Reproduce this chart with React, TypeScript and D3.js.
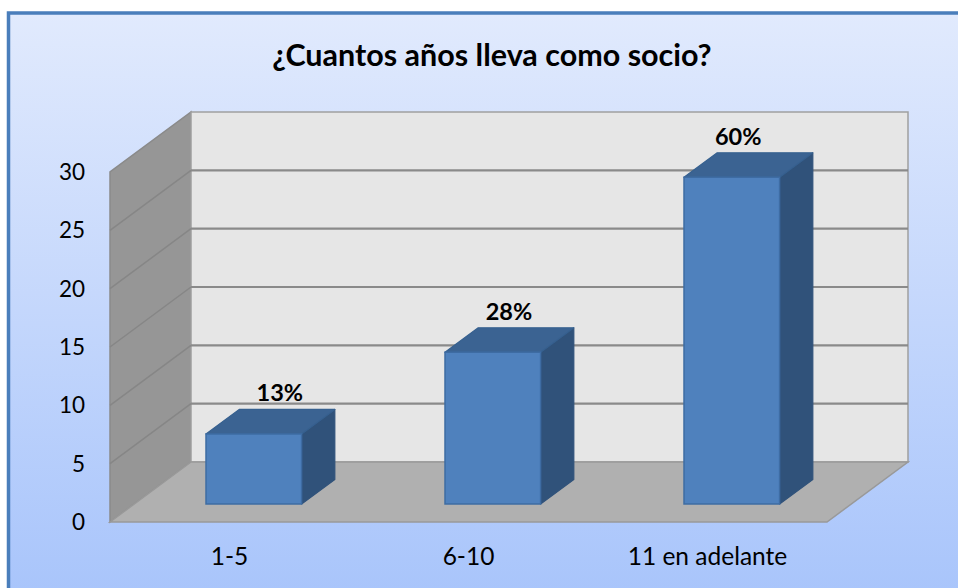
import React from "react";
import * as d3 from "d3";

const categories = ["1-5", "6-10", "11 en adelante"];
const values = [6, 13, 28];
const percentLabels = ["13%", "28%", "60%"];
const yTicks = [0, 5, 10, 15, 20, 25, 30];
const title = "¿Cuantos años lleva como socio?";

const W = 958;
const H = 588;

export default function App() {
  // 3D geometry
  const DX = 81;
  const DY = -60;
  const y = d3.scaleLinear().domain([0, 30]).range([522, 172]);
  const x = d3.scaleBand<string>().domain(categories).range([110, 827]).paddingInner(0).paddingOuter(0);
  const band = x.bandwidth();
  const P = (px: number, v: number, d: number): [number, number] => [px + d * DX, y(v) + d * DY];
  const poly = (pts: [number, number][]) => pts.map((p) => p.join(",")).join(" ");

  const x0 = x.range()[0];
  const x1 = x.range()[1];

  const backWall = poly([P(x0, 0, 1), P(x1, 0, 1), P(x1, 30, 1), P(x0, 30, 1)]);
  const sideWall = poly([P(x0, 0, 0), P(x0, 0, 1), P(x0, 30, 1), P(x0, 30, 0)]);
  const floor = poly([P(x0, 0, 0), P(x1, 0, 0), P(x1, 0, 1), P(x0, 0, 1)]);

  const d0 = 0.3;
  const d1 = 0.71;

  const font = "Lato, 'Open Sans', sans-serif";

  return (
    <svg width={W} height={H} style={{ position: "absolute", left: 0, top: 0 }}>
      <defs>
        <linearGradient id="bg" x1="0" y1="0" x2="0" y2="1">
          <stop offset="0" stopColor="#e1eafd" />
          <stop offset="1" stopColor="#a6c3fb" />
        </linearGradient>
      </defs>
      <rect x={0} y={0} width={W} height={H} fill="#ffffff" />
      <rect x={8.5} y={13} width={W + 20} height={H + 20} fill="url(#bg)" stroke="#4a7ebb" strokeWidth={3.5} />

      <text x={492} y={66} textAnchor="middle" fontFamily={font} fontWeight="bold" fontSize={30.5} fill="#000">
        {title}
      </text>

      {/* walls */}
      <polygon points={sideWall} fill="#969696" stroke="#8a8a8a" strokeWidth={1.5} />
      <polygon points={backWall} fill="#e6e6e6" stroke="#a0a0a0" strokeWidth={1.5} />
      <polygon points={floor} fill="#b0b0b0" stroke="#999999" strokeWidth={1.5} />

      {/* gridlines */}
      {yTicks
        .filter((t) => t > 0 && t < 30)
        .map((t) => {
          const a = P(x0, t, 0);
          const b = P(x0, t, 1);
          const c = P(x1, t, 1);
          return (
            <g key={"g" + t}>
              <line x1={a[0]} y1={a[1]} x2={b[0]} y2={b[1]} stroke="#868686" strokeWidth={1.5} />
              <line x1={b[0]} y1={b[1]} x2={c[0]} y2={c[1]} stroke="#8a8a8a" strokeWidth={2.2} />
            </g>
          );
        })}

      {/* y tick labels */}
      {yTicks.map((t) => (
        <text key={"t" + t} x={85} y={y(t)} dy="0.36em" textAnchor="end" fontFamily={font} fontSize={22.5} fill="#000">
          {t}
        </text>
      ))}

      {/* bars */}
      {categories.map((c, i) => {
        const bx0 = (x(c) as number) + band * 0.3;
        const bx1 = bx0 + band * 0.4;
        const v = values[i];
        const front = poly([P(bx0, 0, d0), P(bx1, 0, d0), P(bx1, v, d0), P(bx0, v, d0)]);
        const top = poly([P(bx0, v, d0), P(bx1, v, d0), P(bx1, v, d1), P(bx0, v, d1)]);
        const side = poly([P(bx1, 0, d0), P(bx1, 0, d1), P(bx1, v, d1), P(bx1, v, d0)]);
        const fc = (bx0 + bx1) / 2 + d0 * DX;
        const lx = fc + 26 - (fc - 254) * 0.041;
        const ly = P(bx0, v, d1)[1] - 8;
        return (
          <g key={c}>
            <polygon points={side} fill="#30527a" stroke="#30527a" strokeWidth={1.2} strokeLinejoin="round" />
            <polygon points={top} fill="#3b6392" stroke="#36608f" strokeWidth={1.2} strokeLinejoin="round" />
            <polygon points={front} fill="#4f81bd" stroke="#3e6ca3" strokeWidth={1.5} />
            <text x={lx} y={ly} textAnchor="middle" fontFamily={font} fontWeight="bold" fontSize={23.5} fill="#000">
              {percentLabels[i]}
            </text>
          </g>
        );
      })}

      {/* x labels */}
      {categories.map((c) => (
        <text key={"x" + c} x={(x(c) as number) + band / 2} y={565} textAnchor="middle" fontFamily={font} fontSize={24.5} fill="#000">
          {c}
        </text>
      ))}
    </svg>
  );
}
